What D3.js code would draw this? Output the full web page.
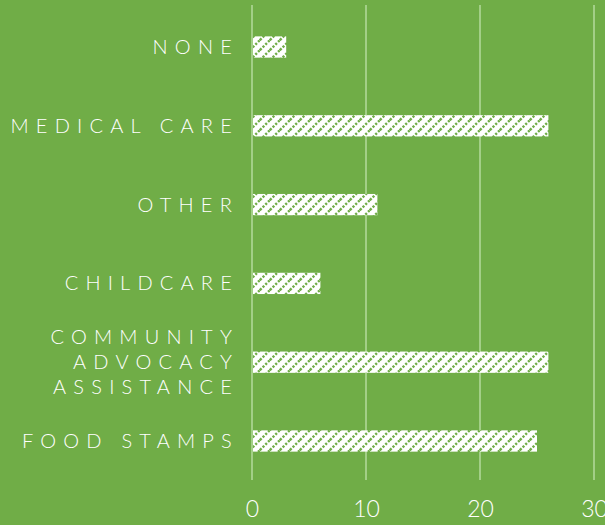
<!DOCTYPE html>
<html>
<head>
<meta charset="utf-8">
<script src="https://cdn.jsdelivr.net/npm/d3@7"></script>
<style>
  html, body { margin: 0; padding: 0; background: #70ad47; }
  svg { display: block; }
</style>
</head>
<body>
<script>
// Categories listed top to bottom; multi-line labels split on "|"
const categories = ["NONE", "MEDICAL CARE", "OTHER", "CHILDCARE", "COMMUNITY|ADVOCACY|ASSISTANCE", "FOOD STAMPS"];
const values = [3, 26, 11, 6, 26, 25];
const tickValues = [0, 10, 20, 30];

const W = 605, H = 525;
const margin = { top: 8, right: 11, bottom: 45, left: 252 };
const bg = "#70ad47";
const gridColor = "#a3cf87";
const font = "Lato, 'Open Sans', sans-serif";

const svg = d3.select("body").append("svg")
  .attr("width", W).attr("height", H);

svg.append("rect").attr("width", W).attr("height", H).attr("fill", bg);

// Hatch fill: white with dotted green diagonals
const defs = svg.append("defs");
const pat = defs.append("pattern")
  .attr("id", "hatch")
  .attr("patternUnits", "userSpaceOnUse")
  .attr("width", 10).attr("height", 10);
pat.append("rect").attr("width", 10).attr("height", 10).attr("fill", "#ffffff");
pat.append("path")
  .attr("d", "M-3,3 L3,-3 M0,10 L10,0 M7,13 L13,7")
  .attr("stroke", bg).attr("stroke-width", 2.4)
  .attr("stroke-dasharray", "2.2,1.6");

const x = d3.scaleLinear().domain([0, 30]).range([margin.left, W - margin.right]);
const y = d3.scaleBand().domain(categories).range([margin.top, H - margin.bottom]).paddingInner(0.73).paddingOuter(0.36);

// Vertical gridlines
svg.append("g").selectAll("line").data(tickValues).join("line")
  .attr("x1", d => x(d)).attr("x2", d => x(d))
  .attr("y1", 5).attr("y2", 480)
  .attr("stroke", gridColor).attr("stroke-width", 2);

// Bars
svg.append("g").selectAll("rect").data(categories).join("rect")
  .attr("x", x(0) + 1)
  .attr("y", d => y(d))
  .attr("width", (d, i) => x(values[i]) - x(0) - 1)
  .attr("height", y.bandwidth())
  .attr("fill", "url(#hatch)");

// X axis tick labels
const xAxis = d3.axisBottom(x).tickValues(tickValues).tickSize(0).tickPadding(0);
const gx = svg.append("g").attr("transform", `translate(0, 501)`).call(xAxis);
gx.select(".domain").remove();
gx.selectAll("text")
  .attr("fill", "#ffffff")
  .attr("font-family", font)
  .attr("font-weight", 300)
  .attr("font-size", 23)
  .attr("dy", "0.71em");

// Category labels
const lineH = 25;
const labelX = 239;
const labels = svg.append("g").selectAll("text").data(categories).join("text")
  .attr("x", labelX)
  .attr("text-anchor", "end")
  .attr("fill", "#ffffff")
  .attr("font-family", font)
  .attr("font-weight", 300)
  .attr("font-size", 20)
  .attr("letter-spacing", "7.2px")
  .attr("y", d => y(d) + y.bandwidth() / 2);
labels.each(function(d) {
  const parts = d.split("|");
  const t = d3.select(this);
  const off = -(parts.length - 1) / 2 * lineH;
  parts.forEach((p, i) => {
    t.append("tspan")
      .attr("x", labelX)
      .attr("dy", i === 0 ? (off + 7) : lineH)
      .text(p);
  });
});
</script>
</body>
</html>
